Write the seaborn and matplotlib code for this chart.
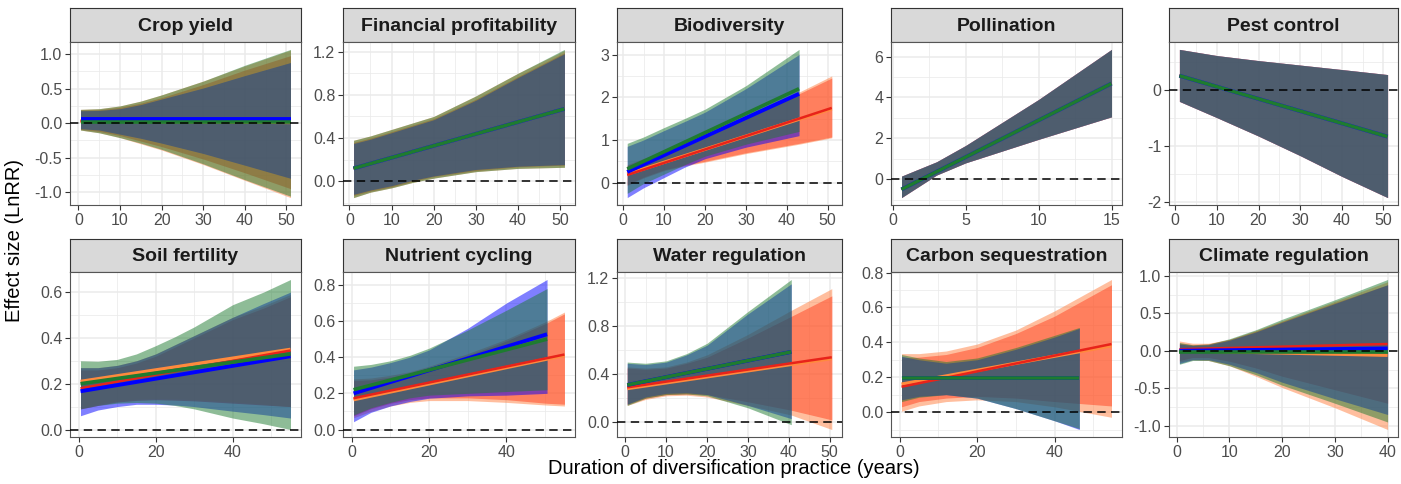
import matplotlib
matplotlib.use("Agg")
import matplotlib.pyplot as plt
import seaborn as sns
import numpy as np
import pandas as pd
from matplotlib.ticker import AutoMinorLocator, FixedLocator

sns.set_theme(style="white")
plt.rcParams["font.family"] = ["Liberation Sans", "DejaVu Sans"]

# ---------------------------------------------------------------- data
SERIES = ["red", "orange", "blue", "green"]          # drawing order of ribbons

# Crop yield
cy_k = [0.5, 5, 10, 15, 20, 30, 40, 51]
cy_x = {"blue": cy_k, "green": cy_k, "red": cy_k, "orange": cy_k}
cy_line = {"blue": [0.06, 0.06], "green": [0.02, 0.02], "red": [0.03, 0.04], "orange": [0.03, 0.01]}
cy_lo = {"blue": [-0.08, -0.10, -0.16, -0.22, -0.29, -0.44, -0.61, -0.80],
         "green": [-0.10, -0.14, -0.21, -0.29, -0.38, -0.59, -0.82, -1.06],
         "red": [-0.09, -0.12, -0.18, -0.26, -0.34, -0.52, -0.72, -0.95],
         "orange": [-0.10, -0.14, -0.21, -0.30, -0.39, -0.60, -0.83, -1.08]}
cy_hi = {"blue": [0.18, 0.185, 0.21, 0.27, 0.35, 0.51, 0.69, 0.88],
         "green": [0.20, 0.21, 0.25, 0.32, 0.41, 0.61, 0.84, 1.07],
         "red": [0.19, 0.195, 0.23, 0.29, 0.37, 0.56, 0.77, 0.98],
         "orange": [0.20, 0.21, 0.25, 0.32, 0.41, 0.61, 0.83, 1.06]}
cy_xt = [0, 10, 20, 30, 40, 50]
cy_yt = [-1.0, -0.5, 0.0, 0.5, 1.0]
cy_ytl = ["-1.0", "-0.5", "0.0", "0.5", "1.0"]

# Financial profitability
fp_k = [1, 5, 10, 15, 20, 30, 40, 51]
fp_x = {"blue": fp_k, "green": fp_k, "red": fp_k, "orange": fp_k}
fp_line = {"blue": [0.12, 0.67], "green": [0.12, 0.67], "red": [0.12, 0.67], "orange": [0.12, 0.67]}
fp_lo = {"blue": [-0.12, -0.08, -0.04, 0.01, 0.05, 0.11, 0.14, 0.155],
         "green": [-0.15, -0.10, -0.06, -0.01, 0.03, 0.09, 0.12, 0.13],
         "red": [-0.13, -0.09, -0.05, 0.00, 0.045, 0.10, 0.135, 0.15],
         "orange": [-0.15, -0.10, -0.06, -0.01, 0.03, 0.09, 0.12, 0.13]}
fp_hi = {"blue": [0.35, 0.39, 0.45, 0.51, 0.57, 0.75, 0.96, 1.18],
         "green": [0.38, 0.42, 0.48, 0.54, 0.60, 0.79, 1.00, 1.22],
         "red": [0.36, 0.40, 0.46, 0.52, 0.58, 0.76, 0.97, 1.19],
         "orange": [0.38, 0.42, 0.48, 0.54, 0.60, 0.79, 1.00, 1.21]}
fp_xt = [0, 10, 20, 30, 40, 50]
fp_yt = [0.0, 0.4, 0.8, 1.2]
fp_ytl = ["0.0", "0.4", "0.8", "1.2"]

# Biodiversity
bd_k1 = [1, 5, 10, 15, 20, 30, 43]
bd_k2 = [1, 5, 10, 15, 20, 30, 43, 51]
bd_x = {"blue": bd_k1, "green": bd_k1, "red": bd_k2, "orange": bd_k2}
bd_line = {"blue": [0.25, 2.08], "green": [0.32, 2.20], "red": [0.18, 1.75], "orange": [0.20, 1.73]}
bd_lo = {"blue": [-0.35, -0.12, 0.12, 0.36, 0.56, 0.83, 1.10],
         "green": [-0.25, -0.02, 0.20, 0.42, 0.62, 0.90, 1.20],
         "red": [-0.05, 0.13, 0.30, 0.41, 0.50, 0.70, 0.92, 1.07],
         "orange": [-0.07, 0.11, 0.28, 0.39, 0.48, 0.68, 0.90, 1.05]}
bd_hi = {"blue": [0.85, 1.00, 1.22, 1.43, 1.65, 2.20, 3.00],
         "green": [0.92, 1.07, 1.29, 1.50, 1.72, 2.27, 3.12],
         "red": [0.40, 0.55, 0.72, 0.90, 1.10, 1.50, 2.08, 2.45],
         "orange": [0.42, 0.57, 0.74, 0.93, 1.13, 1.54, 2.12, 2.50]}
bd_xt = [0, 10, 20, 30, 40, 50]
bd_yt = [0, 1, 2, 3]
bd_ytl = ["0", "1", "2", "3"]

# Pollination
po_k = [0.6, 3, 5, 10, 15]
po_x = {"blue": po_k, "green": po_k, "red": po_k, "orange": po_k}
po_line = {"blue": [-0.5, 4.68], "green": [-0.5, 4.68], "red": [-0.5, 4.68], "orange": [-0.5, 4.68]}
po_lo = {s: [-0.90, 0.20, 0.80, 1.95, 3.05] for s in SERIES}
po_hi = {s: [0.15, 0.85, 1.65, 3.90, 6.35] for s in SERIES}
po_xt = [0, 5, 10, 15]
po_yt = [0, 2, 4, 6]
po_ytl = ["0", "2", "4", "6"]

# Pest control
pc_k = [1, 10, 20, 30, 40, 51]
pc_x = {"blue": pc_k, "green": pc_k, "red": pc_k, "orange": pc_k}
pc_line = {"blue": [0.26, -0.83], "green": [0.26, -0.83], "red": [0.26, -0.83], "orange": [0.26, -0.83]}
pc_lo = {s: [-0.20, -0.49, -0.82, -1.17, -1.54, -1.92] for s in SERIES}
pc_hi = {s: [0.73, 0.62, 0.53, 0.45, 0.37, 0.28] for s in SERIES}
pc_xt = [0, 10, 20, 30, 40, 50]
pc_yt = [-2, -1, 0]
pc_ytl = ["-2", "-1", "0"]

# Soil fertility
sf_k = [0.5, 5, 10, 15, 20, 25, 30, 40, 48, 55]
sf_x = {"blue": sf_k, "green": sf_k, "red": sf_k, "orange": sf_k}
sf_line = {"blue": [0.167, 0.32], "green": [0.20, 0.33], "red": [0.18, 0.345], "orange": [0.21, 0.35]}
sf_lo = {"blue": [0.06, 0.085, 0.10, 0.11, 0.11, 0.107, 0.10, 0.08, 0.065, 0.05],
         "green": [0.09, 0.105, 0.115, 0.118, 0.115, 0.105, 0.09, 0.05, 0.025, 0.0],
         "red": [0.09, 0.105, 0.12, 0.127, 0.13, 0.128, 0.125, 0.115, 0.107, 0.10],
         "orange": [0.095, 0.11, 0.125, 0.132, 0.135, 0.133, 0.13, 0.12, 0.11, 0.10]}
sf_hi = {"blue": [0.27, 0.27, 0.28, 0.30, 0.33, 0.37, 0.41, 0.49, 0.55, 0.60],
         "green": [0.30, 0.298, 0.306, 0.33, 0.366, 0.405, 0.448, 0.545, 0.60, 0.655],
         "red": [0.26, 0.26, 0.27, 0.29, 0.32, 0.36, 0.40, 0.48, 0.53, 0.58],
         "orange": [0.27, 0.27, 0.28, 0.30, 0.33, 0.37, 0.41, 0.49, 0.54, 0.59]}
sf_xt = [0, 20, 40]
sf_yt = [0.0, 0.2, 0.4, 0.6]
sf_ytl = ["0.0", "0.2", "0.4", "0.6"]

# Nutrient cycling
nc_k1 = [0.5, 5, 10, 15, 20, 30, 40, 50.5]
nc_k2 = [0.5, 5, 10, 15, 20, 30, 40, 50.5, 55]
nc_x = {"blue": nc_k1, "green": nc_k1, "red": nc_k2, "orange": nc_k2}
nc_line = {"blue": [0.20, 0.527], "green": [0.22, 0.50], "red": [0.173, 0.415], "orange": [0.165, 0.41]}
nc_lo = {"blue": [0.043, 0.095, 0.13, 0.155, 0.173, 0.186, 0.19, 0.20],
         "green": [0.08, 0.12, 0.15, 0.175, 0.19, 0.20, 0.21, 0.22],
         "red": [0.075, 0.115, 0.145, 0.165, 0.175, 0.175, 0.165, 0.145, 0.14],
         "orange": [0.065, 0.10, 0.13, 0.15, 0.16, 0.16, 0.15, 0.135, 0.13]}
nc_hi = {"blue": [0.33, 0.345, 0.37, 0.40, 0.44, 0.56, 0.70, 0.83],
         "green": [0.35, 0.36, 0.38, 0.41, 0.45, 0.55, 0.66, 0.78],
         "red": [0.27, 0.275, 0.29, 0.31, 0.34, 0.41, 0.49, 0.59, 0.64],
         "orange": [0.28, 0.285, 0.30, 0.32, 0.35, 0.42, 0.50, 0.60, 0.65]}
nc_xt = [0, 20, 40]
nc_yt = [0.0, 0.2, 0.4, 0.6, 0.8]
nc_ytl = ["0.0", "0.2", "0.4", "0.6", "0.8"]

# Water regulation
wr_k1 = [0.5, 5, 10, 15, 20, 30, 40.6]
wr_k2 = [0.5, 5, 10, 15, 20, 30, 40.6, 50.5]
wr_x = {"blue": wr_k1, "green": wr_k1, "red": wr_k2, "orange": wr_k2}
wr_line = {"blue": [0.31, 0.585], "green": [0.31, 0.585], "red": [0.29, 0.54], "orange": [0.28, 0.53]}
wr_lo = {"blue": [0.15, 0.21, 0.24, 0.245, 0.23, 0.14, 0.03],
         "green": [0.14, 0.20, 0.23, 0.235, 0.22, 0.12, -0.02],
         "red": [0.15, 0.20, 0.23, 0.235, 0.23, 0.17, 0.10, 0.02],
         "orange": [0.14, 0.19, 0.22, 0.225, 0.21, 0.14, 0.06, -0.06]}
wr_hi = {"blue": [0.49, 0.48, 0.50, 0.56, 0.64, 0.90, 1.15],
         "green": [0.50, 0.49, 0.51, 0.57, 0.656, 0.92, 1.186],
         "red": [0.45, 0.44, 0.45, 0.49, 0.54, 0.70, 0.88, 1.05],
         "orange": [0.46, 0.45, 0.46, 0.50, 0.56, 0.73, 0.93, 1.11]}
wr_xt = [0, 10, 20, 30, 40, 50]
wr_yt = [0.0, 0.4, 0.8, 1.2]
wr_ytl = ["0.0", "0.4", "0.8", "1.2"]

# Carbon sequestration
cs_k1 = [0.5, 5, 12, 20, 30, 40, 46.4]
cs_k2 = [0.5, 5, 12, 20, 30, 40, 54.7]
cs_x = {"blue": cs_k1, "green": cs_k1, "red": cs_k2, "orange": cs_k2}
cs_line = {"blue": [0.195, 0.195], "green": [0.195, 0.195], "red": [0.145, 0.39], "orange": [0.16, 0.38]}
cs_lo = {"blue": [0.07, 0.09, 0.10, 0.08, 0.02, -0.05, -0.10],
         "green": [0.06, 0.085, 0.10, 0.08, 0.02, -0.05, -0.095],
         "red": [0.03, 0.06, 0.08, 0.09, 0.08, 0.06, 0.035],
         "orange": [0.005, 0.035, 0.06, 0.07, 0.06, 0.03, -0.03]}
cs_hi = {"blue": [0.32, 0.30, 0.28, 0.30, 0.36, 0.43, 0.48],
         "green": [0.33, 0.31, 0.29, 0.31, 0.37, 0.44, 0.485],
         "red": [0.31, 0.315, 0.33, 0.37, 0.45, 0.55, 0.73],
         "orange": [0.335, 0.335, 0.35, 0.39, 0.47, 0.58, 0.76]}
cs_xt = [0, 20, 40]
cs_yt = [0.0, 0.2, 0.4, 0.6, 0.8]
cs_ytl = ["0.0", "0.2", "0.4", "0.6", "0.8"]

# Climate regulation
cr_k = [0.5, 3, 6, 10, 15, 20, 30, 40]
cr_x = {"blue": cr_k, "green": cr_k, "red": cr_k, "orange": cr_k}
cr_line = {"blue": [0.0, 0.03], "green": [-0.02, -0.02], "red": [0.02, 0.09], "orange": [0.0, -0.06]}
cr_lo = {"blue": [-0.17, -0.12, -0.12, -0.18, -0.29, -0.42, -0.64, -0.85],
         "green": [-0.18, -0.13, -0.13, -0.20, -0.32, -0.46, -0.70, -0.95],
         "red": [-0.13, -0.09, -0.09, -0.14, -0.23, -0.34, -0.52, -0.70],
         "orange": [-0.15, -0.12, -0.13, -0.20, -0.34, -0.49, -0.76, -1.05]}
cr_hi = {"blue": [0.09, 0.07, 0.08, 0.14, 0.25, 0.38, 0.63, 0.88],
         "green": [0.11, 0.08, 0.09, 0.16, 0.28, 0.42, 0.68, 0.95],
         "red": [0.10, 0.08, 0.09, 0.15, 0.26, 0.39, 0.64, 0.88],
         "orange": [0.13, 0.10, 0.10, 0.15, 0.27, 0.40, 0.66, 0.92]}
cr_xt = [0, 10, 20, 30, 40]
cr_yt = [-1.0, -0.5, 0.0, 0.5, 1.0]
cr_ytl = ["-1.0", "-0.5", "0.0", "0.5", "1.0"]

titles = ["Crop yield", "Financial profitability", "Biodiversity", "Pollination", "Pest control",
          "Soil fertility", "Nutrient cycling", "Water regulation", "Carbon sequestration",
          "Climate regulation"]

panels = [
    (cy_x, cy_line, cy_lo, cy_hi, cy_xt, cy_yt, cy_ytl),
    (fp_x, fp_line, fp_lo, fp_hi, fp_xt, fp_yt, fp_ytl),
    (bd_x, bd_line, bd_lo, bd_hi, bd_xt, bd_yt, bd_ytl),
    (po_x, po_line, po_lo, po_hi, po_xt, po_yt, po_ytl),
    (pc_x, pc_line, pc_lo, pc_hi, pc_xt, pc_yt, pc_ytl),
    (sf_x, sf_line, sf_lo, sf_hi, sf_xt, sf_yt, sf_ytl),
    (nc_x, nc_line, nc_lo, nc_hi, nc_xt, nc_yt, nc_ytl),
    (wr_x, wr_line, wr_lo, wr_hi, wr_xt, wr_yt, wr_ytl),
    (cs_x, cs_line, cs_lo, cs_hi, cs_xt, cs_yt, cs_ytl),
    (cr_x, cr_line, cr_lo, cr_hi, cr_xt, cr_yt, cr_ytl),
]

# ---------------------------------------------------------------- style
FILL = {"blue": "#0000FF", "green": "#1E7B30", "red": "#FF0000", "orange": "#FF7F3F"}
LINE = {"blue": "#0000FF", "green": "#1E7B30", "red": "#E8231A", "orange": "#FF8A3D"}
LW = {"blue": 2.8, "green": 2.6, "red": 1.8, "orange": 2.4}
LINE_ORDER = ["orange", "red", "blue", "green"]

W, H = 1401, 484
fig = plt.figure(figsize=(W / 100, H / 100), dpi=100)

lefts = [70, 343, 617, 891, 1169]
rights = [301, 575, 842, 1122, 1398]
rows = [(8, 42, 205), (239, 272, 437)]


def add_px_axes(l, t, r, b):
    return fig.add_axes([l / W, 1 - b / H, (r - l) / W, (b - t) / H])


for i, (title, spec) in enumerate(zip(titles, panels)):
    xs, lines, lo, hi, xt, yt, ytl = spec
    row, col = divmod(i, 5)
    st, pt, pb = rows[row]
    l, r = lefts[col], rights[col]

    # strip
    sax = add_px_axes(l, st, r, pt)
    sax.set_facecolor("#d9d9d9")
    sax.set_xticks([]); sax.set_yticks([])
    for sp in sax.spines.values():
        sp.set_color("#333333"); sp.set_linewidth(0.8); sp.set_visible(True)
    sax.text(0.5, 0.47, title, ha="center", va="center", fontsize=14, fontweight="bold",
             color="#1a1a1a", transform=sax.transAxes)

    ax = add_px_axes(l, pt, r, pb)
    ax.set_facecolor("white")

    for s in SERIES:
        ax.fill_between(xs[s], lo[s], hi[s], color=FILL[s], alpha=0.5, linewidth=0, zorder=2)
    for s in LINE_ORDER:
        xk = xs[s]
        sns.lineplot(x=[xk[0], xk[-1]], y=lines[s], color=LINE[s], linewidth=LW[s],
                     ax=ax, legend=False, zorder=3, solid_capstyle="butt")
    ax.axhline(0, color="black", linewidth=1.1, dashes=(5.5, 3.5), zorder=4)

    # limits with ggplot-like 5% expansion
    allx = [v for s in SERIES for v in xs[s]]
    ally = [v for s in SERIES for v in lo[s] + hi[s]] + [0]
    x0, x1 = min(allx), max(allx)
    y0, y1 = min(ally), max(ally)
    ax.set_xlim(x0 - 0.05 * (x1 - x0), x1 + 0.05 * (x1 - x0))
    ax.set_ylim(y0 - 0.05 * (y1 - y0), y1 + 0.05 * (y1 - y0))

    ax.xaxis.set_major_locator(FixedLocator(xt))
    ax.set_xticklabels([str(v) for v in xt])
    ax.yaxis.set_major_locator(FixedLocator(yt))
    ax.set_yticklabels(ytl)
    ax.xaxis.set_minor_locator(AutoMinorLocator(2))
    ax.yaxis.set_minor_locator(AutoMinorLocator(2))
    ax.set_axisbelow(True)
    ax.grid(True, which="major", color="#ebebeb", linewidth=1.1, zorder=0)
    ax.grid(True, which="minor", color="#ebebeb", linewidth=0.55, zorder=0)
    ax.tick_params(which="major", bottom=True, left=True, direction="out", length=3.5,
                   width=0.8, color="#333333", labelsize=11.5, labelcolor="#4d4d4d", pad=2)
    ax.tick_params(which="minor", length=0)
    for sp in ax.spines.values():
        sp.set_color("#555555"); sp.set_linewidth(0.8); sp.set_visible(True)
    ax.set_xlabel(""); ax.set_ylabel("")

fig.text(15 / W, 1 - 240 / H, "Effect size (LnRR)", rotation=90, ha="center", va="center",
         fontsize=14.5, color="black")
fig.text(734 / W, 1 - 468 / H, "Duration of diversification practice (years)", ha="center",
         va="center", fontsize=14.5, color="black")

fig.savefig("out.png", dpi=100)
